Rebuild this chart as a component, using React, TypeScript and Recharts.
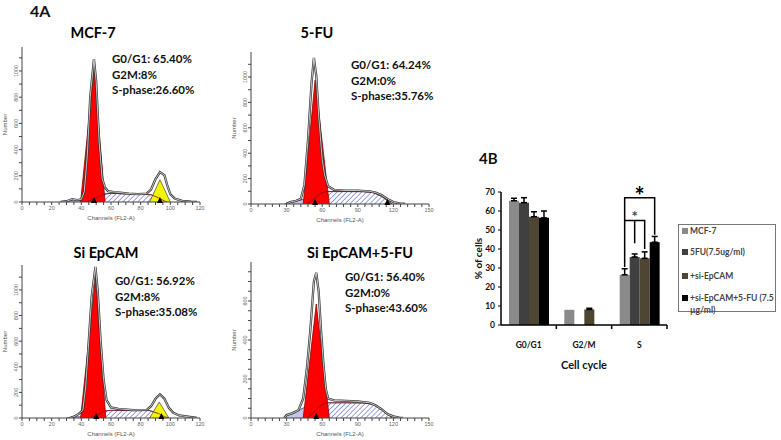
import {
  Area,
  Bar,
  BarChart,
  ComposedChart,
  ErrorBar,
  LabelList,
  Line,
  ReferenceDot,
  XAxis,
  YAxis,
} from "recharts";

type Pt = { x: number; y: number };

// ---- 4A histograms (channel, count) ----
const mcf7Outline: Pt[] = [
  { x: 26, y: 0 }, { x: 30, y: 6 }, { x: 34, y: 22 }, { x: 37, y: 15 }, { x: 40, y: 20 },
  { x: 42, y: 80 }, { x: 44, y: 350 }, { x: 46, y: 800 }, { x: 48.5, y: 1090 }, { x: 50, y: 920 },
  { x: 52, y: 460 }, { x: 54, y: 180 }, { x: 56, y: 110 }, { x: 58, y: 82 }, { x: 62, y: 76 },
  { x: 66, y: 72 }, { x: 72, y: 64 }, { x: 78, y: 60 }, { x: 84, y: 64 }, { x: 87, y: 95 },
  { x: 90, y: 175 }, { x: 93, y: 228 }, { x: 96, y: 205 }, { x: 98, y: 125 }, { x: 100, y: 60 },
  { x: 103, y: 26 }, { x: 108, y: 8 }, { x: 114, y: 2 }, { x: 118, y: 0 },
];
const mcf7G1: Pt[] = [{ x: 39.5, y: 0 }, { x: 48.5, y: 1010 }, { x: 56, y: 0 }];
const mcf7G2: Pt[] = [{ x: 86, y: 0 }, { x: 93, y: 170 }, { x: 100, y: 0 }];
const mcf7S: Pt[] = [
  { x: 44, y: 0 }, { x: 50, y: 30 }, { x: 55, y: 60 }, { x: 60, y: 66 }, { x: 70, y: 62 },
  { x: 80, y: 60 }, { x: 87, y: 55 }, { x: 92, y: 32 }, { x: 96, y: 8 }, { x: 98, y: 0 },
];
const mcf7Debris: Pt[] = [
  { x: 28, y: 0 }, { x: 32, y: 10 }, { x: 35, y: 20 }, { x: 38, y: 12 }, { x: 41, y: 5 }, { x: 44, y: 0 },
];
const mcf7Peaks = [48.5, 93];

const fuOutline: Pt[] = [
  { x: 30, y: 0 }, { x: 33, y: 15 }, { x: 38, y: 25 }, { x: 42, y: 40 }, { x: 45, y: 150 },
  { x: 48, y: 500 }, { x: 51, y: 950 }, { x: 53, y: 1150 }, { x: 55, y: 1010 }, { x: 57, y: 700 },
  { x: 60, y: 350 }, { x: 62, y: 230 }, { x: 65, y: 140 }, { x: 70, y: 112 }, { x: 80, y: 106 },
  { x: 90, y: 106 }, { x: 100, y: 100 }, { x: 105, y: 90 }, { x: 110, y: 70 }, { x: 115, y: 40 },
  { x: 120, y: 15 }, { x: 125, y: 5 }, { x: 130, y: 0 },
];
const fuG1: Pt[] = [{ x: 44, y: 0 }, { x: 54, y: 975 }, { x: 66, y: 0 }];
const fuS: Pt[] = [
  { x: 46, y: 0 }, { x: 52, y: 30 }, { x: 58, y: 80 }, { x: 63, y: 98 }, { x: 80, y: 98 },
  { x: 95, y: 97 }, { x: 103, y: 90 }, { x: 110, y: 60 }, { x: 116, y: 20 }, { x: 119, y: 0 },
];
const fuDebris: Pt[] = [
  { x: 28, y: 0 }, { x: 32, y: 15 }, { x: 38, y: 25 }, { x: 44, y: 35 }, { x: 50, y: 20 }, { x: 54, y: 0 },
];
const fuPeaks = [54, 115];

const siOutline: Pt[] = [
  { x: 32, y: 0 }, { x: 35, y: 10 }, { x: 38, y: 30 }, { x: 41, y: 60 }, { x: 43, y: 250 },
  { x: 45, y: 600 }, { x: 47, y: 950 }, { x: 49.5, y: 1180 }, { x: 51, y: 1000 }, { x: 53, y: 600 },
  { x: 55, y: 300 }, { x: 57, y: 140 }, { x: 60, y: 82 }, { x: 65, y: 72 }, { x: 75, y: 62 },
  { x: 84, y: 64 }, { x: 87, y: 92 }, { x: 90, y: 150 }, { x: 93, y: 185 }, { x: 96, y: 150 },
  { x: 99, y: 80 }, { x: 102, y: 40 }, { x: 106, y: 20 }, { x: 112, y: 10 }, { x: 118, y: 0 },
];
const siG1: Pt[] = [{ x: 39.5, y: 0 }, { x: 49.5, y: 1095 }, { x: 56.5, y: 0 }];
const siG2: Pt[] = [{ x: 86, y: 0 }, { x: 92.5, y: 125 }, { x: 99, y: 0 }];
const siS: Pt[] = [
  { x: 46, y: 0 }, { x: 51, y: 25 }, { x: 56, y: 55 }, { x: 60, y: 60 }, { x: 75, y: 58 },
  { x: 86, y: 58 }, { x: 92, y: 35 }, { x: 96, y: 10 }, { x: 99, y: 0 },
];
const siDebris: Pt[] = [
  { x: 30, y: 0 }, { x: 34, y: 6 }, { x: 38, y: 10 }, { x: 42, y: 5 }, { x: 44, y: 0 },
];
const siPeaks = [50, 94];

const comboOutline: Pt[] = [
  { x: 28, y: 0 }, { x: 30, y: 15 }, { x: 35, y: 25 }, { x: 40, y: 40 }, { x: 44, y: 100 },
  { x: 47, y: 250 }, { x: 50, y: 450 }, { x: 53, y: 700 }, { x: 55, y: 745 }, { x: 57, y: 650 },
  { x: 59, y: 450 }, { x: 61, y: 280 }, { x: 63, y: 150 }, { x: 65, y: 100 }, { x: 70, y: 90 },
  { x: 80, y: 88 }, { x: 90, y: 85 }, { x: 100, y: 78 }, { x: 105, y: 65 }, { x: 110, y: 45 },
  { x: 115, y: 20 }, { x: 120, y: 8 }, { x: 125, y: 2 }, { x: 128, y: 0 },
];
const comboG1: Pt[] = [{ x: 44, y: 0 }, { x: 55, y: 585 }, { x: 66, y: 0 }];
const comboS: Pt[] = [
  { x: 47, y: 0 }, { x: 53, y: 30 }, { x: 58, y: 60 }, { x: 63, y: 78 }, { x: 80, y: 78 },
  { x: 95, y: 77 }, { x: 103, y: 70 }, { x: 110, y: 45 }, { x: 116, y: 15 }, { x: 119, y: 0 },
];
const comboDebris: Pt[] = [
  { x: 28, y: 0 }, { x: 30, y: 15 }, { x: 36, y: 25 }, { x: 42, y: 45 }, { x: 47, y: 60 },
  { x: 52, y: 40 }, { x: 56, y: 15 }, { x: 60, y: 0 },
];
const comboPeaks = [55];

const ticks120 = [0, 5, 10, 15, 20, 25, 30, 35, 40, 45, 50, 55, 60, 65, 70, 75, 80, 85, 90, 95, 100, 105, 110, 115, 120];
const ticks150 = [0, 6, 12, 18, 24, 30, 36, 42, 48, 54, 60, 66, 72, 78, 84, 90, 96, 102, 108, 114, 120, 126, 132, 138, 144, 150];
const countTicks = [0, 100, 200, 300, 400, 500, 600, 700, 800, 900, 1000, 1100];
const countTicksSmall = [0, 50, 100, 150, 200, 250, 300, 350, 400, 450, 500, 550, 600, 650, 700, 750];

// ---- 4B bar chart ----
const categories = ["G0/G1", "G2/M", "S"];
const mcf7Vals = [65.4, 8, 26.4];
const mcf7Errs = [1.3, 0, 3.2];
const fuVals = [64.4, 0, 35.8];
const fuErrs = [2.6, 0, 1.6];
const siVals = [57, 8.2, 35.1];
const siErrs = [2.6, 0.6, 3.4];
const comboVals = [56.4, 0, 43.6];
const comboErrs = [3.6, 0, 3];
const seriesNames = ["MCF-7", "5FU(7.5ug/ml)", "+si-EpCAM", "+si-EpCAM+5-FU (7.5 µg/ml)"];
const seriesColors = ["#8a8a8a", "#404040", "#4e4532", "#000000"];

const barData = categories.map((c, i) => ({
  cat: c,
  mcf7: mcf7Vals[i],
  mcf7Err: mcf7Errs[i],
  fu: fuVals[i],
  fuErr: fuErrs[i],
  si: siVals[i],
  siErr: siErrs[i],
  combo: comboVals[i],
  comboErr: comboErrs[i],
}));

const FONT = "Lato, 'Open Sans', sans-serif";

const makeXTick = (every: number) => (props: any) => {
  const { x, y, payload } = props;
  if (payload.value % every !== 0) return <g />;
  return (
    <text x={x} y={y + 4} textAnchor="middle" fontSize={5.5} fill="#666" fontFamily="Arial">
      {payload.value}
    </text>
  );
};

const makeYTick = (every: number) => (props: any) => {
  const { x, y, payload } = props;
  if (payload.value % every !== 0) return <g />;
  return (
    <text
      x={x}
      y={y}
      transform={`rotate(-90 ${x} ${y})`}
      textAnchor="middle"
      fontSize={5.5}
      fill="#666"
      fontFamily="Arial"
    >
      {payload.value}
    </text>
  );
};

const Triangle = (props: any) => {
  const { cx, cy } = props;
  return <polygon points={`${cx - 3},${cy + 1} ${cx + 3},${cy + 1} ${cx},${cy - 5}`} fill="#000" />;
};

interface HistProps {
  id: string;
  left: number;
  top: number;
  height: number;
  xMax: number;
  yMax: number;
  xTicks: number[];
  xEvery: number;
  yTicks: number[];
  outline: Pt[];
  g1: Pt[];
  s: Pt[];
  debris: Pt[];
  g2?: Pt[];
  peaks: number[];
}

function Histogram(p: HistProps) {
  return (
    <div style={{ position: "absolute", left: p.left, top: p.top }}>
      <ComposedChart width={208} height={p.height} margin={{ top: 7, right: 10, left: 0, bottom: 0 }}>
        <defs>
          <pattern id={p.id} width="3.5" height="3.5" patternUnits="userSpaceOnUse" patternTransform="rotate(45)">
            <rect width="3.5" height="3.5" fill="#fff" />
            <line x1="0" y1="0" x2="0" y2="3.5" stroke="#5b5fc8" strokeWidth="1.2" />
          </pattern>
        </defs>
        <XAxis
          type="number"
          dataKey="x"
          domain={[0, p.xMax]}
          ticks={p.xTicks}
          interval={0}
          height={20}
          tickSize={3}
          tickMargin={1}
          axisLine={{ stroke: "#444" }}
          tickLine={{ stroke: "#444" }}
          tick={makeXTick(p.xEvery)}
          label={{
            content: (lp: any) => {
              const vb = lp.viewBox;
              return (
                <text x={vb.x + vb.width / 2} y={vb.y + vb.height - 2} textAnchor="middle" fontSize={6} fill="#555" fontFamily="Arial">
                  Channels (FL2-A)
                </text>
              );
            },
          }}
        />
        <YAxis
          type="number"
          domain={[0, p.yMax]}
          ticks={p.yTicks}
          interval={0}
          width={20}
          tickSize={3}
          tickMargin={1}
          axisLine={{ stroke: "#444" }}
          tickLine={{ stroke: "#444" }}
          tick={makeYTick(200)}
          allowDataOverflow
          label={{
            content: (lp: any) => {
              const vb = lp.viewBox;
              const cx = vb.x + 5;
              const cy = vb.y + vb.height / 2;
              return (
                <text x={cx} y={cy} transform={`rotate(-90 ${cx} ${cy})`} textAnchor="middle" fontSize={6} fill="#555" fontFamily="Arial">
                  Number
                </text>
              );
            },
          }}
        />
        <Area data={p.debris} dataKey="y" type="linear" fill="#c4c4ee" fillOpacity={1} stroke="#333a7a" strokeWidth={0.8} isAnimationActive={false} />
        <Area data={p.s} dataKey="y" type="linear" fill={`url(#${p.id})`} fillOpacity={1} stroke="#333" strokeWidth={0.6} isAnimationActive={false} />
        <Area data={p.g1} dataKey="y" type="linear" fill="#ff0000" fillOpacity={1} stroke="#8a0000" strokeWidth={0.8} isAnimationActive={false} />
        {p.g2 && (
          <Area data={p.g2} dataKey="y" type="linear" fill="#f4f400" fillOpacity={1} stroke="#555" strokeWidth={0.8} isAnimationActive={false} />
        )}
        <Line data={p.s} dataKey="y" type="linear" stroke="#7a1020" strokeWidth={0.8} dot={false} isAnimationActive={false} />
        <Line data={p.outline} dataKey="y" type="linear" stroke="#333" strokeWidth={2.3} dot={false} isAnimationActive={false} />
        <Line data={p.outline} dataKey="y" type="linear" stroke="#fff" strokeWidth={0.7} dot={false} isAnimationActive={false} />
        {p.peaks.map((pk) => (
          <ReferenceDot key={pk} x={pk} y={0} r={3} ifOverflow="visible" shape={Triangle} />
        ))}
      </ComposedChart>
    </div>
  );
}

const titleStyle = (cx: number, cy: number): React.CSSProperties => ({
  position: "absolute",
  left: cx - 100,
  top: cy - 10,
  width: 200,
  textAlign: "center",
  fontFamily: FONT,
  fontWeight: 700,
  fontSize: 14.5,
  lineHeight: "20px",
  color: "#000",
});

function Stats({ left, top, lines }: { left: number; top: number; lines: string[] }) {
  return (
    <div
      style={{
        position: "absolute",
        left,
        top: top - 8,
        fontFamily: FONT,
        fontWeight: 700,
        fontSize: 11.5,
        lineHeight: "15.5px",
        color: "#111",
        whiteSpace: "nowrap",
      }}
    >
      {lines.map((l) => (
        <div key={l}>{l}</div>
      ))}
    </div>
  );
}

// bar chart geometry
const BAR_W = 200;
const BAR_H = 195;
const BAR_MARGIN = { top: 12, right: 3, left: 0, bottom: 0 };
const BAR_YAXIS_W = 31;
const band = (BAR_W - BAR_MARGIN.left - BAR_MARGIN.right - BAR_YAXIS_W) / categories.length;

const CatTick = (props: any) => {
  const { x, y, payload } = props;
  return (
    <g>
      <line x1={x + band / 2} x2={x + band / 2} y1={y} y2={y + 4} stroke="#000" strokeWidth={1.5} />
      <text x={x} y={y + 23} textAnchor="middle" fontSize={8.5} fontWeight={700} fill="#111" fontFamily={FONT}>
        {payload.value}
      </text>
    </g>
  );
};

// significance brackets, placed from the combo bar of the S group
const Brackets = (props: any) => {
  const vb = props.viewBox && props.viewBox.width != null ? props.viewBox : props;
  const v = Number(props.value);
  if (!(props.index === 2 || v === comboVals[2])) return null;
  const x = Number(vb.x);
  const y = Number(vb.y);
  const w = Number(vb.width);
  const h = Number(vb.height);
  const base = y + h;
  const yAt = (val: number) => base - (val * h) / v;
  const cx = (k: number) => x - (3 - k) * w + w / 2;
  const big = `M${cx(0)},${yAt(30.5)} L${cx(0)},${yAt(67)} L${cx(3)},${yAt(67)} L${cx(3)},${yAt(47.5)}`;
  const small = `M${cx(0)},${yAt(55)} L${cx(2)},${yAt(55)} L${cx(2)},${yAt(40)}`;
  const mid = `M${cx(1)},${yAt(55)} L${cx(1)},${yAt(43)}`;
  return (
    <g>
      <path d={big} fill="none" stroke="#000" strokeWidth={1.5} />
      <path d={small} fill="none" stroke="#000" strokeWidth={1.5} />
      <path d={mid} fill="none" stroke="#000" strokeWidth={1.5} />
      <text x={(cx(0) + cx(3)) / 2} y={yAt(67) + 7} textAnchor="middle" fontSize={24} fontWeight={700} fontFamily={FONT} fill="#000">
        *
      </text>
      <text x={(cx(0) + cx(2)) / 2} y={yAt(55) + 1} textAnchor="middle" fontSize={15} fontWeight={700} fontFamily={FONT} fill="#3d4a5c">
        *
      </text>
    </g>
  );
};

function CellCycleBars() {
  const keys = ["mcf7", "fu", "si", "combo"];
  return (
    <div style={{ position: "absolute", left: 470, top: 180 }}>
      <BarChart width={BAR_W} height={BAR_H} data={barData} margin={BAR_MARGIN} barSize={10} barGap={0}>
        <XAxis
          dataKey="cat"
          height={50}
          tickSize={0}
          tickMargin={0}
          tickLine={false}
          axisLine={{ stroke: "#000", strokeWidth: 1.5 }}
          tick={CatTick}
          interval={0}
          label={{
            content: (lp: any) => {
              const vb = lp.viewBox;
              return (
                <text x={vb.x + vb.width / 2} y={vb.y + 44} textAnchor="middle" fontSize={11} fontWeight={700} fill="#111" fontFamily={FONT}>
                  Cell cycle
                </text>
              );
            },
          }}
        />
        <YAxis
          domain={[0, 70]}
          ticks={[0, 10, 20, 30, 40, 50, 60, 70]}
          interval={0}
          width={BAR_YAXIS_W}
          tickSize={3}
          tickMargin={3}
          axisLine={{ stroke: "#000", strokeWidth: 1.5 }}
          tickLine={{ stroke: "#000" }}
          tick={{ fontSize: 8.5, fontWeight: 700, fill: "#111", fontFamily: FONT }}
          label={{
            content: (lp: any) => {
              const vb = lp.viewBox;
              const cx = vb.x + 8;
              const cy = vb.y + vb.height / 2;
              return (
                <text x={cx} y={cy} transform={`rotate(-90 ${cx} ${cy})`} textAnchor="middle" dominantBaseline="central" fontSize={10} fontWeight={700} fill="#111" fontFamily={FONT}>
                  % of cells
                </text>
              );
            },
          }}
        />
        {keys.map((k, i) => (
          <Bar key={k} dataKey={k} fill={seriesColors[i]} isAnimationActive={false}>
            <ErrorBar
              dataKey={(d: any) => (d[k + "Err"] ? [0, d[k + "Err"]] : undefined)}
              width={3}
              stroke="#000"
              strokeWidth={1.5}
              direction="y"
            />
            {k === "combo" && <LabelList dataKey="combo" content={Brackets} />}
          </Bar>
        ))}
      </BarChart>
    </div>
  );
}

function BarLegend() {
  const rows = [230, 251, 275, 297];
  return (
    <div
      style={{
        position: "absolute",
        left: 678,
        top: 224,
        width: 98,
        height: 88,
        border: "1px solid #777",
        boxSizing: "border-box",
      }}
    >
      {seriesNames.map((n, i) => (
        <div
          key={n}
          style={{
            position: "absolute",
            left: 3,
            top: rows[i] - 224 - 6,
            width: 92,
            fontFamily: FONT,
            fontWeight: 700,
            fontSize: 8.5,
            lineHeight: "12px",
            color: "#444",
            display: "flex",
          }}
        >
          <span
            style={{
              display: "inline-block",
              width: 6,
              height: 6,
              marginTop: 3,
              marginRight: 2,
              flex: "none",
              background: seriesColors[i],
            }}
          />
          <span>{n}</span>
        </div>
      ))}
    </div>
  );
}

export default function App() {
  return (
    <div style={{ position: "absolute", left: 0, top: 0, width: 781, height: 440, background: "#fff", overflow: "hidden" }}>
      <div style={{ position: "absolute", left: 30, top: 1, fontFamily: FONT, fontWeight: 700, fontSize: 16, color: "#111" }}>4A</div>
      <div style={{ position: "absolute", left: 479, top: 149, fontFamily: FONT, fontWeight: 700, fontSize: 15, color: "#111" }}>4B</div>

      <Histogram id="h1" left={2} top={40} height={182} xMax={120} yMax={1183} xTicks={ticks120} xEvery={20} yTicks={countTicks}
        outline={mcf7Outline} g1={mcf7G1} g2={mcf7G2} s={mcf7S} debris={mcf7Debris} peaks={mcf7Peaks} />
      <Histogram id="h2" left={231} top={45} height={179} xMax={150} yMax={1197} xTicks={ticks150} xEvery={30} yTicks={countTicks}
        outline={fuOutline} g1={fuG1} s={fuS} debris={fuDebris} peaks={fuPeaks} />
      <Histogram id="h3" left={2} top={258} height={180} xMax={120} yMax={1195} xTicks={ticks120} xEvery={20} yTicks={countTicks}
        outline={siOutline} g1={siG1} g2={siG2} s={siS} debris={siDebris} peaks={siPeaks} />
      <Histogram id="h4" left={231} top={255} height={183} xMax={150} yMax={800} xTicks={ticks150} xEvery={30} yTicks={countTicksSmall}
        outline={comboOutline} g1={comboG1} s={comboS} debris={comboDebris} peaks={comboPeaks} />

      <div style={titleStyle(93, 33)}>MCF-7</div>
      <div style={titleStyle(317, 33)}>5-FU</div>
      <div style={titleStyle(106, 253)}>Si EpCAM</div>
      <div style={titleStyle(360, 253)}>Si EpCAM+5-FU</div>

      <Stats left={112} top={59} lines={["G0/G1: 65.40%", "G2M:8%", "S-phase:26.60%"]} />
      <Stats left={351} top={65} lines={["G0/G1: 64.24%", "G2M:0%", "S-phase:35.76%"]} />
      <Stats left={115} top={281} lines={["G0/G1: 56.92%", "G2M:8%", "S-phase:35.08%"]} />
      <Stats left={345} top={277} lines={["G0/G1: 56.40%", "G2M:0%", "S-phase:43.60%"]} />

      <CellCycleBars />
      <BarLegend />
    </div>
  );
}
